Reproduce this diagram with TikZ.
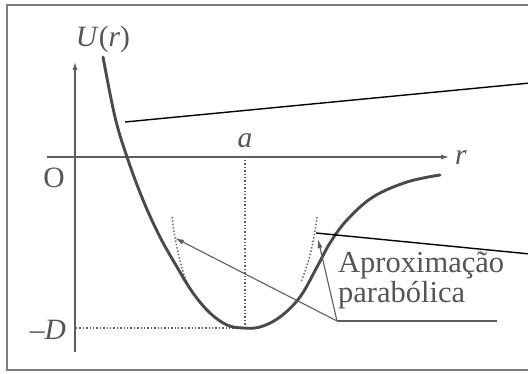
\documentclass[tikz,border=0pt]{standalone}
\usepackage{fontspec}
\setmainfont{Liberation Serif}
\usepackage{tikz}
\usetikzlibrary{arrows.meta,calc}
\definecolor{inkgray}{HTML}{4A4A4A}
\definecolor{axgray}{HTML}{5E5E5E}
\definecolor{txtgray}{HTML}{555555}

\begin{document}
\begin{tikzpicture}[
  x=1pt,y=-1pt,
  lbl/.style={font=\fontsize{29.5}{30}\selectfont,text=txtgray,inner sep=0pt},
  note/.style={lbl,font=\fontsize{30.5}{30}\selectfont},
  axis/.style={-{Latex[length=8pt,width=5pt]},draw=axgray,line width=1.1pt},
  curve/.style={draw=inkgray,line width=2.9pt,line cap=round},
  guide/.style={draw=axgray,line width=1.4pt,dotted},
  lead/.style={draw=black,line width=1.4pt},
  pointer/.style={-{Latex[length=9pt,width=5pt]},draw=axgray,line width=1.1pt},
]
\useasboundingbox (0,0) rectangle (528,374);
\clip (0,0) rectangle (528,374);
\fill[white] (0,0) rectangle (528,374);

% frame, open on the right
\draw[axgray!80,line width=1.5pt] (540,5) -- (7,5) -- (7,370) -- (540,370);

% axes
\coordinate (ybot) at (75,352);
\coordinate (ytop) at (75,62);
\coordinate (xl) at (47,157);
\coordinate (xr) at (449,157);
\draw[axis] (ybot) -- (ytop);
\draw[axis] (xl) -- (xr);

% labels on the axes
\node[lbl,anchor=base] (ulbl) at (103,47) {\textit{U}(\textit{r})};
\node[lbl,anchor=base west] (rlbl) at (455,165) {\textit{r}};
\node[lbl,anchor=base] (olbl) at (54,188) {O};
\node[lbl,anchor=base] (albl) at (245,148) {\textit{a}};
\node[lbl,anchor=base] (dlbl) at (48,340) {–\textit{D}};

% minimum
\coordinate (amin) at (245,328);
\coordinate (atop) at (245,160);
\coordinate (dleft) at (76,328);
\draw[guide] (atop) -- (amin);
\draw[guide] (dleft) -- (amin);

% parabolic approximation, outer ends only
\coordinate (pl) at (172,217);
\coordinate (pr) at (317,217);
\draw[guide] (pl) .. controls (175,242) and (180,265) .. (188,286);
\draw[guide] (pr) .. controls (314,242) and (309,262) .. (301,282);

% potential curve
\draw[curve] plot[smooth,tension=0.6] coordinates {
  (103,57) (115,117) (127,157) (143,200) (160,237) (177,267) (193,293)
  (210,313) (227,325) (243,328) (260,327) (280,317) (300,297) (317,267)
  (330,243) (347,220) (373,197) (407,182) (440,175)};

% text and its pointers
\node[note,anchor=base west] (aprox1) at (338,273) {Aproximação};
\node[note,anchor=base west] (aprox2) at (338,303) {parabólica};
\coordinate (knee) at (337,321);
\coordinate (shelf) at (497,321);
\coordinate (tipl) at (175,238);
\coordinate (tipr) at (318,239);
\draw[axgray,line width=1.1pt] (knee) -- (shelf);
\draw[pointer] (knee) -- (tipl);
\draw[pointer] (knee) -- (tipr);

% leader lines running off to the right
\coordinate (lead1) at (125,122);
\coordinate (lead1e) at (530,83);
\coordinate (lead2) at (316,233);
\coordinate (lead2e) at (530,254);
\draw[lead] (lead1) -- (lead1e);
\draw[lead] (lead2) -- (lead2e);
\end{tikzpicture}
\end{document}
